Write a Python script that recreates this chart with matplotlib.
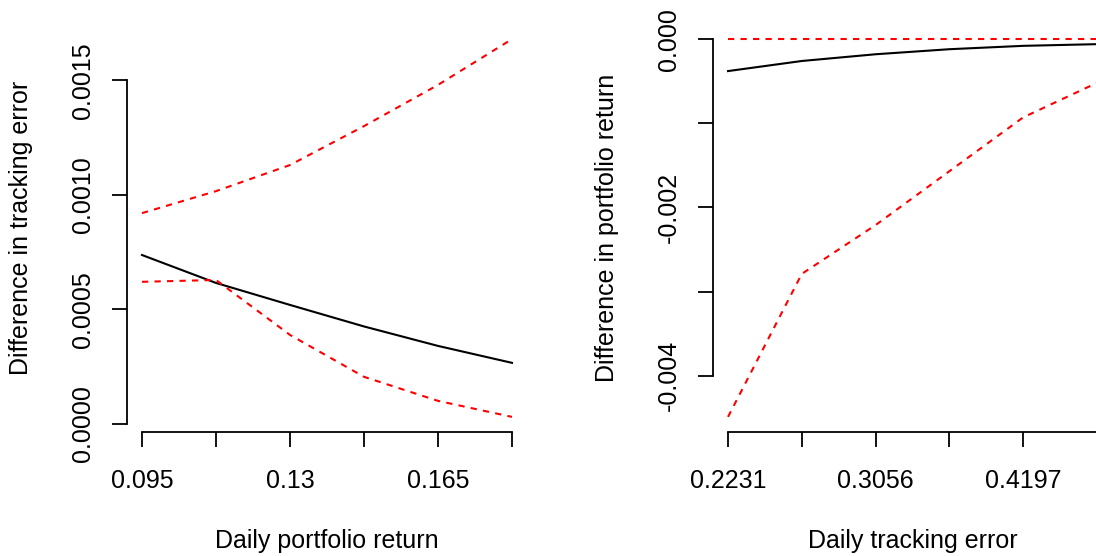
import matplotlib
matplotlib.use("Agg")
import matplotlib.pyplot as plt
import numpy as np

plt.rcParams['font.family'] = ['Liberation Sans', 'DejaVu Sans']

# Left panel: tracking error difference against daily portfolio return
ret_x = [0.095, 0.1125, 0.13, 0.1475, 0.165, 0.1825]
ret_ticklabels = ['0.095', '', '0.13', '', '0.165', '']
te_diff = [0.000737, 0.000615, 0.000519, 0.000425, 0.000340, 0.000266]
te_upper = [0.000920, 0.001016, 0.001130, 0.001300, 0.001480, 0.001680]
te_lower = [0.000620, 0.000628, 0.000388, 0.000205, 0.000100, 0.000030]
te_yticks = [0.0, 0.0005, 0.0010, 0.0015]
te_yticklabels = ['0.0000', '0.0005', '0.0010', '0.0015']

# Right panel: portfolio return difference against daily tracking error
trk_ticklabels = ['0.2231', '', '0.3056', '', '0.4197', '']
ret_diff = [-0.00038, -0.00026, -0.00018, -0.00012, -0.00008, -0.00006]
ret_upper = [0.0, 0.0, 0.0, 0.0, 0.0, 0.0]
ret_lower = [-0.00449, -0.00279, -0.00221, -0.00157, -0.00093, -0.00052]
ret_yticks = [-0.004, -0.003, -0.002, -0.001, 0.0]
ret_yticklabels = ['-0.004', '', '-0.002', '', '0.000']

W, H = 1096, 556
FS = 18
fig = plt.figure(figsize=(W / 100, H / 100), dpi=100)


def px_axes(left, right, top, bottom):
    return fig.add_axes([left / W, 1 - bottom / H, (right - left) / W, (bottom - top) / H])


def padded(lo, hi, frac=0.04):
    d = (hi - lo) * frac
    return lo - d, hi + d


def style(ax, xticks, xlabels, yticks, ylabels, xlabel, ylabel):
    for s in ('top', 'right'):
        ax.spines[s].set_visible(False)
    for s in ('left', 'bottom'):
        ax.spines[s].set_linewidth(1.3)
    ax.spines['bottom'].set_bounds(xticks[0], xticks[-1])
    ax.spines['left'].set_bounds(yticks[0], yticks[-1])
    ax.set_xticks(xticks)
    ax.set_xticklabels(xlabels)
    ax.set_yticks(yticks)
    ax.set_yticklabels(ylabels, rotation=90, va='center')
    ax.tick_params(axis='both', length=10.8, width=1.3, labelsize=FS, direction='out')
    ax.tick_params(axis='x', pad=16)
    ax.tick_params(axis='y', pad=12.5)
    ax.set_xlabel(xlabel, fontsize=FS, labelpad=26)
    ax.set_ylabel(ylabel, fontsize=FS, labelpad=27)


# Left panel
ax1 = px_axes(127.2, 526.8, 24, 432)
ax1.plot(ret_x, te_diff, color='black', lw=1.5)
ax1.plot(ret_x, te_upper, color='#FF0000', lw=1.5, dashes=(3, 3))
ax1.plot(ret_x, te_lower, color='#FF0000', lw=1.5, dashes=(3, 3))
ax1.set_xlim(*padded(min(ret_x), max(ret_x)))
ax1.set_ylim(*padded(min(te_lower), max(te_upper)))
style(ax1, ret_x, ret_ticklabels, te_yticks, te_yticklabels,
      'Daily portfolio return', 'Difference in tracking error')

# Right panel
pos = np.arange(len(trk_ticklabels))
ax2 = px_axes(713.25, 1111.75, 24, 432)
ax2.plot(pos, ret_diff, color='black', lw=1.5)
ax2.plot(pos, ret_upper, color='#FF0000', lw=1.5, dashes=(3, 3))
ax2.plot(pos, ret_lower, color='#FF0000', lw=1.5, dashes=(3, 3))
ax2.set_xlim(*padded(pos[0], pos[-1]))
ax2.set_ylim(*padded(min(ret_lower), max(ret_upper)))
style(ax2, pos, trk_ticklabels, ret_yticks, ret_yticklabels,
      'Daily tracking error', 'Difference in portfolio return')

fig.savefig('out.png', dpi=100)
